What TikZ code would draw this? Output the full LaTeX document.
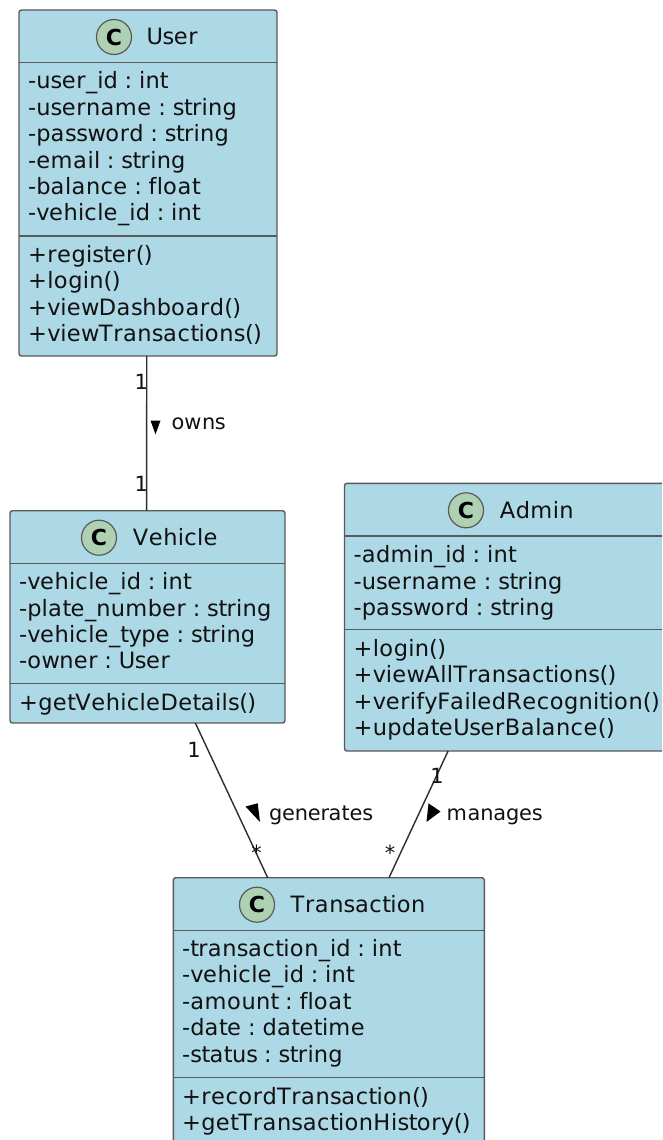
\documentclass[tikz,border=0pt]{standalone}
\usepackage{fontspec}
\setmainfont{DejaVu Sans}
\usetikzlibrary{calc}

\definecolor{classfill}{HTML}{ADD8E6}
\definecolor{classline}{HTML}{5A5A5A}
\definecolor{circfill}{HTML}{ADD1B2}
\definecolor{edgecol}{HTML}{2E2E2E}
\definecolor{txt}{HTML}{111111}

% Glyph-by-glyph setting: every advance is snapped to a whole pixel of
% the unscaled (1/1.607) raster, the way the diagram renderer spaces text.
% Spaces inside the strings are written as ~.
\newbox\pubox
\newdimen\pudim
\def\pustop{PUSTOP}
\newcommand\pu[1]{\puloop#1\pustop}
\def\puloop#1{\ifx#1\pustop\else\puchar{#1}\expandafter\puloop\fi}
\newcommand\puchar[1]{%
  \setbox\pubox\hbox{#1}%
  \pudim=\wd\pubox
  \pgfmathsetmacro\puw{round(\pudim/1.607)*1.607}%
  \hbox to \puw pt{\box\pubox\hss}}

\tikzset{
  classbox/.style={draw=classline, fill=classfill, line width=1.4pt,
    rounded corners=2.5pt, inner sep=0pt, outer sep=0pt, anchor=north west},
  divider/.style={draw=classline, line width=1.4pt},
  member/.style={anchor=base west, inner sep=0pt, text=txt,
    font=\fontsize{22.5}{26.4}\selectfont},
  classtitle/.style={anchor=base west, inner sep=0pt, text=txt,
    font=\fontsize{22.5}{26.4}\selectfont},
  badge/.style={circle, draw=classline, fill=circfill, line width=1.2pt,
    minimum size=35pt, inner sep=0pt, text=black,
    font=\fontsize{22}{22}\bfseries\selectfont},
  assoc/.style={draw=edgecol, line width=1.4pt},
  lbl/.style={inner sep=0pt, text=txt, font=\fontsize{20.9}{24}\selectfont},
  dirtri/.style={fill=black, draw=none},
}

% one line per member, baselines 26.4pt apart
\newcommand\memberlines[3]{%
  \foreach \m [count=\k from 0] in {#3}
    \node[member] at ({#1},{#2+26.4*\k}) {\expandafter\pu\expandafter{\m}};}

\begin{document}
\begin{tikzpicture}[x=1pt,y=-1pt]
\useasboundingbox (0,0) rectangle (662,1140);
\clip (0,0) rectangle (662,1140);
\fill[white] (0,0) rectangle (662,1140);

% ---------- User ----------
\node[classbox, minimum width=258pt, minimum height=346pt] (user) at (19,10) {};
\draw[divider] ([yshift=-52.5pt]user.north west) -- ([yshift=-52.5pt]user.north east);
\draw[divider] ([yshift=-226pt]user.north west) -- ([yshift=-226pt]user.north east);
\node[badge] (userC) at (114,37) {C};
\node[classtitle] (userT) at (146.4,44.5) {\pu{User}};
\memberlines{28}{88.9}{-user\_id~:~int,-username~:~string,-password~:~string,-email~:~string,-balance~:~float,-vehicle\_id~:~int}
\memberlines{28}{262.5}{+register(),+login(),+viewDashboard(),+viewTransactions()}

% ---------- Vehicle ----------
\node[classbox, minimum width=275pt, minimum height=212.3pt] (vehicle) at (10,510.7) {};
\draw[divider] ([yshift=-52.5pt]vehicle.north west) -- ([yshift=-52.5pt]vehicle.north east);
\draw[divider] ([yshift=-173pt]vehicle.north west) -- ([yshift=-173pt]vehicle.north east);
\node[badge] (vehicleC) at (99,537.7) {C};
\node[classtitle] (vehicleT) at (132.7,545.2) {\pu{Vehicle}};
\memberlines{19}{589.7}{-vehicle\_id~:~int,-plate\_number~:~string,-vehicle\_type~:~string,-owner~:~User}
\memberlines{19}{710}{+getVehicleDetails()}

% ---------- Admin ----------
\node[classbox, minimum width=331pt, minimum height=267.7pt] (admin) at (344.5,483.3) {};
\draw[divider] ([yshift=-52.5pt]admin.north west) -- ([yshift=-52.5pt]admin.north east);
\draw[divider] ([yshift=-146.2pt]admin.north west) -- ([yshift=-146.2pt]admin.north east);
\node[badge] (adminC) at (466,510.3) {C};
\node[classtitle] (adminT) at (499.7,518.2) {\pu{Admin}};
\memberlines{353.5}{562.6}{-admin\_id~:~int,-username~:~string,-password~:~string}
\memberlines{353.5}{656.5}{+login(),+viewAllTransactions(),+verifyFailedRecognition(),+updateUserBalance()}

% ---------- Transaction ----------
\node[classbox, minimum width=311pt, minimum height=266pt] (trans) at (173.3,877.7) {};
\draw[divider] ([yshift=-52.8pt]trans.north west) -- ([yshift=-52.8pt]trans.north east);
\draw[divider] ([yshift=-199.6pt]trans.north west) -- ([yshift=-199.6pt]trans.north east);
\node[badge] (transC) at (257,904.7) {C};
\node[classtitle] (transT) at (290.5,912.2) {\pu{Transaction}};
\memberlines{182}{956.5}{-transaction\_id~:~int,-vehicle\_id~:~int,-amount~:~float,-date~:~datetime,-status~:~string}
\memberlines{182}{1104}{+recordTransaction(),+getTransactionHistory()}

% ---------- associations ----------
% User 1 -- 1 Vehicle : owns
\draw[assoc] ($(user.south west)!0.495!(user.south east)$)
  -- ($(vehicle.north west)!0.497!(vehicle.north east)$);
\node[lbl, anchor=base east] (m1) at (148,389.3) {1};
\node[lbl, anchor=base east] (m2) at (148,491.7) {1};
\fill[dirtri] (150.5,420.5) -- (160.5,420.5) -- (155.5,434.3) -- cycle;
\node[lbl, anchor=base west] (owns) at (171.3,429) {\pu{owns}};

% Vehicle 1 -- * Transaction : generates
\draw[assoc] ($(vehicle.south west)!0.674!(vehicle.south east)$)
  -- ($(trans.north west)!0.3035!(trans.north east)$);
\node[lbl, anchor=base] (m3) at (194,757) {1};
\node[lbl, anchor=base] (m4) at (256.7,860.8) {*};
\fill[dirtri] (245.5,806.5) -- (257.7,803.3) -- (260,822) -- cycle;
\node[lbl, anchor=base west] (gen) at (269,820.5) {\pu{generates}};

% Admin 1 -- * Transaction : manages
\draw[assoc] ($(admin.south west)!0.313!(admin.south east)$)
  -- ($(trans.north west)!0.6936!(trans.north east)$);
\node[lbl, anchor=base] (m5) at (437,783.3) {1};
\node[lbl, anchor=base] (m6) at (390,860.8) {*};
\fill[dirtri] (440.5,811.5) -- (428.5,803.3) -- (426.5,822) -- cycle;
\node[lbl, anchor=base west] (man) at (446.5,820.5) {\pu{manages}};
\end{tikzpicture}
\end{document}
